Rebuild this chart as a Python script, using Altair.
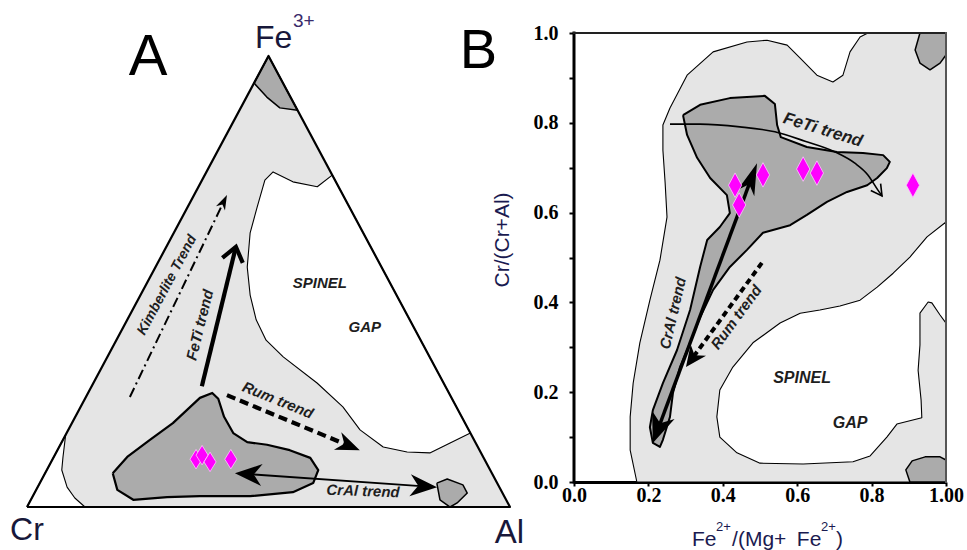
import math
import altair as alt
import pandas as pd

# ---------------------------------------------------------------------------
# Panel A: Cr - Al - Fe3+ ternary. Points are (Al, Fe3+) fractions, Cr = 1 - Al - Fe3+
# ---------------------------------------------------------------------------
TRI_AL = [0.0, 1.0, 0.0]
TRI_FE = [0.0, 0.0, 1.0]

CORNER_AL = [0.0, 0.0, 0.019, 0.031, 0.061, 0.089, 0.120]
CORNER_FE = [0.0, 0.160, 0.111, 0.082, 0.044, 0.020, 0.0]

GAP_A_AL = [0.264, 0.246, 0.190, 0.138, 0.130, 0.144, 0.158, 0.190, 0.227, 0.267,
            0.310, 0.364, 0.463, 0.543, 0.604, 0.671, 0.726, 0.774, 0.805, 0.836]
GAP_A_FE = [0.736, 0.710, 0.721, 0.743, 0.725, 0.665, 0.608, 0.532, 0.470, 0.415,
            0.370, 0.333, 0.275, 0.222, 0.171, 0.133, 0.122, 0.120, 0.142, 0.164]

CAP_AL = [0.0, 0.0, 0.042, 0.081, 0.120]
CAP_FE = [1.0, 0.940, 0.909, 0.885, 0.880]

CORE_A_AL = [0.140, 0.152, 0.180, 0.209, 0.237, 0.257, 0.276, 0.308, 0.345, 0.384, 0.428,
             0.481, 0.532, 0.562, 0.566, 0.534, 0.450, 0.346, 0.279, 0.212, 0.168]
CORE_A_FE = [0.075, 0.111, 0.149, 0.186, 0.242, 0.253, 0.240, 0.200, 0.164, 0.144, 0.138,
             0.126, 0.109, 0.082, 0.053, 0.033, 0.024, 0.024, 0.022, 0.016, 0.038]

POD_AL = [0.822, 0.839, 0.878, 0.896, 0.886, 0.876, 0.847]
POD_FE = [0.053, 0.062, 0.049, 0.031, 0.009, 0.0, 0.016]

SAMPLE_A_AL = [0.297, 0.305, 0.329, 0.369]
SAMPLE_A_FE = [0.106, 0.115, 0.100, 0.106]

# trend vectors: [start, end]
KIMB_AL, KIMB_FE = [0.091, 0.068], [0.244, 0.692]
FETI_A_AL, FETI_A_FE = [0.228, 0.144], [0.268, 0.577]
RUM_A_AL, RUM_A_FE = [0.290, 0.626], [0.248, 0.126]
CRAL_A_AL, CRAL_A_FE = [0.393, 0.827], [0.075, 0.044]

# ---------------------------------------------------------------------------
# Panel B: Cr/(Cr+Al) against Fe2+/(Mg+Fe2+)
# ---------------------------------------------------------------------------
SHELL_X = [0.169, 0.151, 0.151, 0.159, 0.177, 0.204, 0.231, 0.250, 0.245, 0.239, 0.239,
           0.258, 0.304, 0.374, 0.465, 0.519, 0.573, 0.608, 0.653, 0.696, 0.723, 0.742,
           0.769, 0.790, 1.0, 1.0]
SHELL_Y = [0.0, 0.071, 0.145, 0.220, 0.310, 0.405, 0.494, 0.590, 0.666, 0.739, 0.795,
           0.833, 0.906, 0.958, 0.980, 0.984, 0.973, 0.944, 0.906, 0.891, 0.906, 0.958,
           0.991, 1.0, 1.0, 0.0]

GAP_B_X = [1.0, 0.949, 0.903, 0.858, 0.815, 0.769, 0.715, 0.661, 0.608, 0.554, 0.481,
           0.427, 0.392, 0.384, 0.392, 0.438, 0.500, 0.616, 0.750, 0.796, 0.841, 0.868,
           0.935, 0.933, 0.925, 0.930, 0.930, 0.952, 0.962, 0.984, 1.0]
GAP_B_Y = [0.579, 0.546, 0.501, 0.465, 0.434, 0.405, 0.392, 0.383, 0.376, 0.354, 0.310,
           0.256, 0.205, 0.145, 0.100, 0.065, 0.042, 0.040, 0.045, 0.058, 0.100, 0.129,
           0.143, 0.183, 0.249, 0.305, 0.376, 0.401, 0.399, 0.372, 0.354]

CORE_B_X = [0.293, 0.339, 0.419, 0.513, 0.540, 0.546, 0.556, 0.626, 0.707, 0.777, 0.831,
            0.849, 0.841, 0.815, 0.788, 0.734, 0.680, 0.626, 0.581, 0.508, 0.465, 0.419,
            0.374, 0.339, 0.312, 0.285, 0.266, 0.258, 0.239, 0.231, 0.212, 0.204, 0.212,
            0.239, 0.277, 0.312, 0.339, 0.358, 0.392, 0.419, 0.411, 0.366, 0.331, 0.304]
CORE_B_Y = [0.817, 0.840, 0.855, 0.860, 0.842, 0.795, 0.768, 0.746, 0.735, 0.733, 0.728,
            0.713, 0.699, 0.677, 0.661, 0.646, 0.624, 0.595, 0.572, 0.555, 0.517, 0.479,
            0.428, 0.367, 0.310, 0.256, 0.198, 0.145, 0.094, 0.078, 0.087, 0.122, 0.160,
            0.220, 0.294, 0.383, 0.479, 0.539, 0.568, 0.599, 0.639, 0.677, 0.722, 0.773]

TOPBLOB_X = [0.930, 0.917, 0.930, 0.957, 0.984, 1.0, 1.0]
TOPBLOB_Y = [1.0, 0.962, 0.933, 0.918, 0.933, 0.951, 1.0]

LOWBLOB_X = [0.903, 0.892, 0.909, 0.944, 0.984, 1.0, 1.0]
LOWBLOB_Y = [0.0, 0.027, 0.047, 0.056, 0.056, 0.049, 0.0]

SAMPLE_B_X = [0.433, 0.444, 0.508, 0.616, 0.653, 0.911]
SAMPLE_B_Y = [0.661, 0.617, 0.684, 0.697, 0.688, 0.661]

FETI_B_X = [0.258, 0.339, 0.446, 0.540, 0.621, 0.702, 0.755, 0.790, 0.817, 0.828]
FETI_B_Y = [0.797, 0.797, 0.791, 0.780, 0.759, 0.735, 0.710, 0.684, 0.650, 0.637]
CRAL_B_X, CRAL_B_Y = [0.212, 0.492], [0.087, 0.710]
RUM_B_X, RUM_B_Y = [0.505, 0.301], [0.488, 0.256]

X_TICKS = [0.0, 0.2, 0.4, 0.6, 0.8, 1.0]
Y_TICKS = [round(i / 10, 1) for i in range(11)]

# ---------------------------------------------------------------------------
LIGHT, DARK, INK = "#e5e5e5", "#ababab", "#1e1e1e"
MAGENTA = "#ff00ff"

A_W, A_H = 574, 550
AX, AY = [-0.0559, 1.1325], [-0.0953, 1.1242]
B_W, B_H = 372, 482
BX, BY = [0.0, 1.0], [0.0, 1.0735]

KXA, KYA = A_W / (AX[1] - AX[0]), A_H / (AY[1] - AY[0])
KXB, KYB = B_W / (BX[1] - BX[0]), B_H / (BY[1] - BY[0])

X_AXIS_B = alt.Axis(
    values=X_TICKS, labelExpr="datum.value == 1 ? '1.00' : format(datum.value, '.1f')",
    labelFont="Liberation Serif", labelFontWeight="bold", labelFontSize=20,
    labelColor="black", tickSize=4, tickWidth=2, tickColor="black", domainColor="black",
    domainWidth=3, labelPadding=-1, labelFlush=False, labelOverlap=False, grid=False,
    title=None,
)
Y_AXIS_B = alt.Axis(
    values=Y_TICKS,
    labelExpr="round(datum.value * 10) % 2 == 0 ? format(datum.value, '.1f') : ''",
    labelFont="Liberation Serif", labelFontWeight="bold", labelFontSize=20,
    labelColor="black", tickSize=5, tickWidth=2, tickColor="black", domain=False,
    labelPadding=11, labelFlush=False, labelOverlap=False, grid=False, title=None,
)


def tern(al, fe):
    """Cartesian frame of the triangle: Cr (0,0), Al (1,0), Fe3+ (0.5,1)."""
    return [a + f / 2 for a, f in zip(al, fe)], list(fe)


def ring(xs, ys, close=True):
    xs, ys = list(xs), list(ys)
    if close:
        xs, ys = xs + xs[:1], ys + ys[:1]
    return pd.DataFrame({"x": xs, "y": ys, "i": list(range(len(xs)))})


def enc_a(**extra):
    return dict(
        x=alt.X("x:Q", scale=alt.Scale(domain=AX, nice=False, zero=False), axis=None),
        y=alt.Y("y:Q", scale=alt.Scale(domain=AY, nice=False, zero=False), axis=None),
        **extra,
    )


def enc_b(**extra):
    # every layer carries the same axis definition so the shared axes merge cleanly
    return dict(
        x=alt.X("x:Q", scale=alt.Scale(domain=BX, nice=False, zero=False), axis=X_AXIS_B),
        y=alt.Y("y:Q", scale=alt.Scale(domain=BY, nice=False, zero=False), axis=Y_AXIS_B),
        **extra,
    )


def shape(df, enc, fill=None, stroke=None, width=1.0, dash=None, interp=None):
    props = dict(strokeWidth=width, strokeJoin="round", opacity=1)
    if fill:
        props["fill"] = fill
    if stroke:
        props["stroke"] = stroke
    else:
        props["strokeOpacity"] = 0
    if dash:
        props["strokeDash"] = dash
    if interp:
        props["interpolate"] = interp
    return alt.Chart(df).mark_line(**props).encode(**enc(order=alt.Order("i:Q")))


def heading(x0, y0, x1, y1, kx, ky):
    return math.degrees(math.atan2((x1 - x0) * kx, (y1 - y0) * ky)) % 360


def pull_back(x0, y0, x1, y1, kx, ky, px):
    """Point px pixels before (x1, y1) along the segment."""
    d = math.hypot((x1 - x0) * kx, (y1 - y0) * ky)
    t = max(0.0, 1 - px / d)
    return x0 + (x1 - x0) * t, y0 + (y1 - y0) * t


def head(x, y, ang, length, width, enc, notch=1.4, open_=False, lw=1.5):
    a = width / length
    df = pd.DataFrame({"x": [x], "y": [y]})
    if open_:
        path = f"M{-a:.3f},2L0,0L{a:.3f},2"
        mk = alt.Chart(df).mark_point(shape=path, size=length ** 2, angle=ang, filled=False,
                                      stroke="black", strokeWidth=lw, opacity=1)
    else:
        path = f"M0,0L{a:.3f},2L0,{notch}L{-a:.3f},2Z"
        mk = alt.Chart(df).mark_point(shape=path, size=length ** 2, angle=ang, filled=True,
                                      fill="black", strokeWidth=0, opacity=1)
    return mk.encode(**enc())


def label(x, y, text, enc, size, angle=0, bold=False, italic=False, font="Liberation Sans",
          color=INK, align="center", baseline="middle"):
    props = dict(text=text, font=font, fontSize=size, angle=angle % 360, align=align,
                 baseline=baseline, color=color)
    if bold:
        props["fontWeight"] = "bold"
    if italic:
        props["fontStyle"] = "italic"
    return alt.Chart(pd.DataFrame({"x": [x], "y": [y]})).mark_text(**props).encode(**enc())


def arrow(xs, ys, enc, kx, ky, width, dash=None, tip=None, tail=None, interp=None):
    """Line with optional heads; tip/tail are (length, width, open) tuples."""
    xs, ys = list(xs), list(ys)
    lx, ly = xs[:], ys[:]
    layers = []
    if tip:
        L, W, op = tip
        if not op:
            lx[-1], ly[-1] = pull_back(xs[-2], ys[-2], xs[-1], ys[-1], kx, ky, L * 0.6)
        layers.append(head(xs[-1], ys[-1], heading(xs[-2], ys[-2], xs[-1], ys[-1], kx, ky),
                           L, W, enc, open_=op, lw=width if op else 1.5))
    if tail:
        L, W, op = tail
        if not op:
            lx[0], ly[0] = pull_back(xs[1], ys[1], xs[0], ys[0], kx, ky, L * 0.6)
        layers.append(head(xs[0], ys[0], heading(xs[1], ys[1], xs[0], ys[0], kx, ky),
                           L, W, enc, open_=op, lw=width if op else 1.5))
    line = shape(ring(lx, ly, close=False), enc, stroke="black", width=width, dash=dash,
                 interp=interp)
    return [line] + layers


DIAMOND = "M0,-1L{a},0L0,1L{na},0Z"

# ----------------------------- panel A -------------------------------------
a_layers = [
    shape(ring(*tern(TRI_AL, TRI_FE)), enc_a, fill=LIGHT),
    shape(ring(*tern(CORNER_AL, CORNER_FE)), enc_a, fill="white", stroke="black", width=1.1),
    shape(ring(*tern(GAP_A_AL, GAP_A_FE)), enc_a, fill="white", stroke="black", width=1.1),
    shape(ring(*tern(CAP_AL, CAP_FE)), enc_a, fill=DARK, stroke="black", width=1.5),
    shape(ring(*tern(CORE_A_AL, CORE_A_FE)), enc_a, fill=DARK, stroke="black", width=2.2),
    shape(ring(*tern(POD_AL, POD_FE)), enc_a, fill=DARK, stroke="black", width=1.5),
    shape(ring(*tern(TRI_AL, TRI_FE)), enc_a, stroke="black", width=2.2),
]
a_layers += arrow(*tern(KIMB_AL, KIMB_FE), enc_a, KXA, KYA, 2.0, dash=[10, 4, 2, 4],
                  tip=(15, 10, False))
a_layers += arrow(*tern(FETI_A_AL, FETI_A_FE), enc_a, KXA, KYA, 4.2, tip=(14, 21, True))
a_layers += arrow(*tern(RUM_A_AL, RUM_A_FE), enc_a, KXA, KYA, 4.2, dash=[9, 5],
                  tip=(24, 19, False))
a_layers += arrow(*tern(CRAL_A_AL, CRAL_A_FE), enc_a, KXA, KYA, 1.8,
                  tip=(27, 22, False), tail=(27, 22, False))

sx, sy = tern(SAMPLE_A_AL, SAMPLE_A_FE)
a_layers.append(
    alt.Chart(pd.DataFrame({"x": sx, "y": sy})).mark_point(
        shape=DIAMOND.format(a=0.62, na=-0.62), size=380, filled=True, fill=MAGENTA,
        stroke="#ffc8ff", strokeWidth=0.8, opacity=1).encode(**enc_a())
)

for (al, fe, txt, ang, size) in [
    (0.044, 0.492, "Kimberlite Trend", -62, 14),
    (0.156, 0.4035, "FeTi trend", -76, 15),
    (0.401, 0.237, "Rum trend", 22, 15),
    (0.678, 0.0355, "CrAl trend", 2, 15),
    (0.358, 0.497, "SPINEL", 0, 15),
    (0.500, 0.399, "GAP", 0, 15),
]:
    (x,), (y,) = tern([al], [fe])
    a_layers.append(label(x, y, txt, enc_a, size, angle=ang, bold=True, italic=True))

VERT = "#18183a"
a_layers += [
    label(0.2505, 0.958, "A", enc_a, 58, color="black", baseline="alphabetic"),
    label(0.0, -0.073, "Cr", enc_a, 32, color=VERT, baseline="alphabetic"),
    label(0.999, -0.080, "Al", enc_a, 33, color=VERT, baseline="alphabetic"),
    label(0.472, 1.0177, "Fe", enc_a, 32, color=VERT, align="left", baseline="alphabetic"),
    label(0.5507, 1.0643, "3+", enc_a, 19, color="#3a2a6a", align="left",
          baseline="alphabetic"),
]

panel_a = alt.layer(*a_layers).properties(width=A_W, height=A_H)

# ----------------------------- panel B -------------------------------------
b_layers = [
    shape(ring(SHELL_X, SHELL_Y), enc_b, fill=LIGHT, stroke="black", width=1.1),
    shape(ring(GAP_B_X, GAP_B_Y), enc_b, fill="white", stroke="black", width=1.1),
    shape(ring(CORE_B_X, CORE_B_Y), enc_b, fill=DARK, stroke="black", width=2.0),
    shape(ring(TOPBLOB_X, TOPBLOB_Y), enc_b, fill=DARK, stroke="black", width=1.5),
    shape(ring(LOWBLOB_X, LOWBLOB_Y), enc_b, fill=DARK, stroke="black", width=1.5),
]

frame = pd.DataFrame({
    "x": [0.0, 0.0, 1.0], "x2": [0.0, 1.0, 1.0],
    "y": [0.0, 1.0, 0.0], "y2": [1.0, 1.0, 1.0],
    "w": [3.0, 2.0, 2.0], "c": ["black", "#222222", "#555555"],
})
b_layers.append(
    alt.Chart(frame).mark_rule(strokeCap="square").encode(
        **enc_b(x2="x2:Q", y2="y2:Q",
                strokeWidth=alt.StrokeWidth("w:Q", scale=None),
                color=alt.Color("c:N", scale=None))
    )
)

b_layers += arrow(FETI_B_X, FETI_B_Y, enc_b, KXB, KYB, 1.6, tip=(11, 12, True),
                  interp="monotone")
b_layers += arrow(CRAL_B_X, CRAL_B_Y, enc_b, KXB, KYB, 3.5,
                  tip=(32, 18, False), tail=(30, 24, False))
b_layers += arrow(RUM_B_X, RUM_B_Y, enc_b, KXB, KYB, 4.0, dash=[6, 4], tip=(21, 19, False))

b_layers.append(
    alt.Chart(pd.DataFrame({"x": SAMPLE_B_X, "y": SAMPLE_B_Y})).mark_point(
        shape=DIAMOND.format(a=0.54, na=-0.54), size=600, filled=True, fill=MAGENTA,
        stroke="#ffc8ff", strokeWidth=0.8, opacity=1).encode(**enc_b())
)

for (x, y, txt, ang, size) in [
    (0.669, 0.784, "FeTi trend", 17, 17),
    (0.266, 0.376, "CrAl trend", -77, 15),
    (0.436, 0.367, "Rum trend", -54, 15),
    (0.613, 0.232, "SPINEL", 0, 16),
    (0.742, 0.131, "GAP", 0, 16),
]:
    b_layers.append(label(x, y, txt, enc_b, size, angle=ang, bold=True, italic=True))

TITLE = "#1a1a50"
b_layers += [
    label(-0.257, 0.922, "B", enc_b, 56, color="black", baseline="alphabetic"),
    label(-0.191, 0.539, "Cr/(Cr+Al)", enc_b, 21, angle=270, color=TITLE),
]
for (x, y, txt, size) in [
    (0.317, -0.1425, "Fe", 21), (0.382, -0.109, "2+", 13), (0.425, -0.1425, "/(Mg+", 21),
    (0.599, -0.1425, "Fe", 21), (0.664, -0.109, "2+", 13), (0.704, -0.1425, ")", 21),
]:
    b_layers.append(label(x, y, txt, enc_b, size, color=TITLE, align="left",
                          baseline="alphabetic"))

panel_b = alt.layer(*b_layers).properties(width=B_W, height=B_H)

chart = (
    alt.hconcat(panel_a, panel_b, spacing=0, bounds="flush")
    .properties(padding=0, background="white")
    .configure_view(strokeWidth=0)
)

chart.save("out.html", embed_options={"renderer": "svg", "actions": False})
